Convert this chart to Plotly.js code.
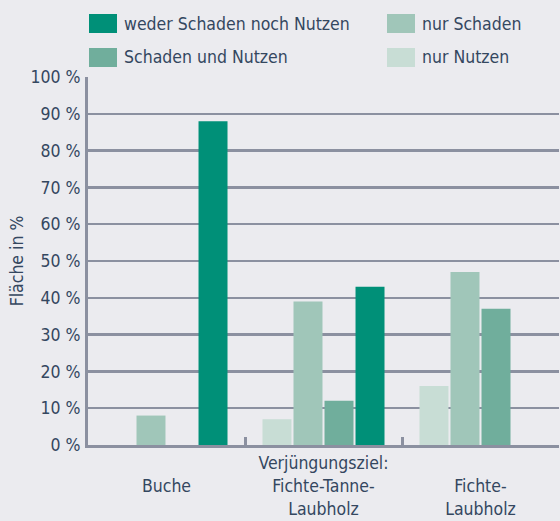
<!DOCTYPE html>
<html><head><meta charset="utf-8">
<script src="https://cdn.plot.ly/plotly-3.0.1.min.js"></script>
<style>html,body{margin:0;padding:0;background:#ebebef;}</style>
</head><body>
<div id="chart" style="width:560px;height:521px;"></div>
<script>
const categories = ["Buche", "Verjüngungsziel: Fichte-Tanne-Laubholz", "Fichte-Laubholz"];
const tickLabels = [" <br>Buche", "Verjüngungsziel:<br>Fichte-Tanne-<br>Laubholz", " <br>Fichte-<br>Laubholz"];
const seriesNames = ["nur Nutzen", "nur Schaden", "Schaden und Nutzen", "weder Schaden noch Nutzen"];
const nurNutzen = [0, 7, 16];
const nurSchaden = [8, 39, 47];
const schadenUndNutzen = [0, 12, 37];
const wederNoch = [88, 43, 0];
const colors = ["#c8ddd5", "#a0c6b9", "#70ae9c", "#009078"];
const yTickVals = [0,10,20,30,40,50,60,70,80,90,100];
const yTickText = yTickVals.map(v => v + " %");
const legendOrder = ["weder Schaden noch Nutzen", "nur Schaden", "Schaden und Nutzen", "nur Nutzen"];

const values = [nurNutzen, nurSchaden, schadenUndNutzen, wederNoch];
const FONT = "'DejaVu Sans Condensed', 'Liberation Sans Narrow', sans-serif";
const TXT = "#34475f";
const GRID = "#8b90a0";
const FS = 17.5;

const traces = seriesNames.map((n, i) => ({
  type: "bar", name: n, x: categories, y: values[i],
  marker: {color: colors[i], line: {width: 0}}, showlegend: false, hoverinfo: "skip"
}));

// manual legend (2 columns)
const legPos = [[89, 23.5], [387, 23.5], [89, 57.5], [387, 57.5]];
const shapes = [], annotations = [];
legendOrder.forEach((n, k) => {
  const i = seriesNames.indexOf(n);
  const [px, py] = legPos[k];
  shapes.push({type: "rect", xref: "paper", yref: "paper",
    x0: (px - 88) / 471, x1: (px + 28 - 88) / 471,
    y0: (445 - (py + 9.5)) / 368, y1: (445 - (py - 9.5)) / 368,
    fillcolor: colors[i], line: {width: 0}, layer: "above"});
  annotations.push({xref: "paper", yref: "paper", x: (px + 33 - 88) / 471, y: (445 - py) / 368,
    xanchor: "left", yanchor: "middle", text: n, showarrow: false,
    font: {family: FONT, size: FS, color: TXT}});
});

const layout = {
  width: 560, height: 521,
  margin: {l: 88, r: 1, t: 77, b: 76},
  paper_bgcolor: "#ebebef", plot_bgcolor: "#ebebef",
  barmode: "group", bargap: 0.21, bargroupgap: 0.065,
  font: {family: FONT, size: FS, color: TXT},
  showlegend: false,
  xaxis: {
    type: "category", range: [-0.5, 2.5], tickvals: categories, ticktext: tickLabels,
    tickangle: 0,
    tickson: "boundaries", ticks: "inside", ticklen: 8, tickwidth: 3, tickcolor: GRID,
    showline: true, linecolor: GRID, linewidth: 3, showgrid: false, zeroline: false,
    tickfont: {family: FONT, size: FS, color: TXT}, fixedrange: true, automargin: false
  },
  yaxis: {
    range: [0, 100], tickvals: yTickVals, ticktext: yTickText,
    showgrid: true, gridcolor: GRID, gridwidth: 2.5,
    showline: true, linecolor: GRID, linewidth: 3, zeroline: false, ticks: "",
    tickfont: {family: FONT, size: FS, color: TXT}, ticklabelstandoff: 1,
    title: {text: "Fläche in %", font: {family: FONT, size: FS, color: TXT}, standoff: 3},
    automargin: false, fixedrange: true
  },
  shapes: shapes, annotations: annotations
};
Plotly.newPlot("chart", traces, layout, {displayModeBar: false, staticPlot: true});
</script>
</body></html>
